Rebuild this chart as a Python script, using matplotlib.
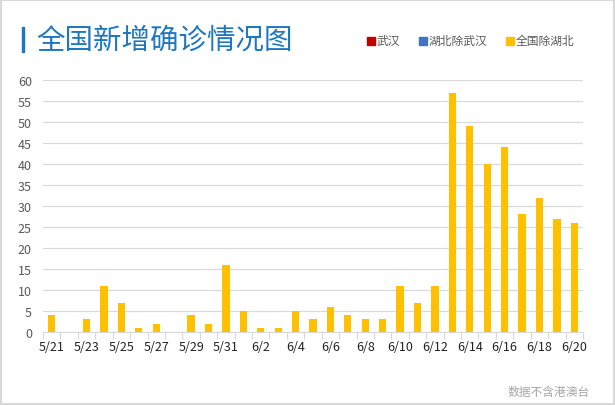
import numpy as np
import matplotlib.pyplot as plt
from matplotlib.patches import Rectangle

plt.rcParams['font.family'] = ['Noto Sans CJK SC', 'DejaVu Sans']

dates = ['5/21', '5/22', '5/23', '5/24', '5/25', '5/26', '5/27', '5/28', '5/29', '5/30', '5/31',
         '6/1', '6/2', '6/3', '6/4', '6/5', '6/6', '6/7', '6/8', '6/9', '6/10',
         '6/11', '6/12', '6/13', '6/14', '6/15', '6/16', '6/17', '6/18', '6/19', '6/20']
wuhan = [0] * len(dates)
hubei_ex_wuhan = [0] * len(dates)
china_ex_hubei = [4, 0, 3, 11, 7, 1, 2, 0, 4, 2, 16,
                  5, 1, 1, 5, 3, 6, 4, 3, 3, 11,
                  7, 11, 57, 49, 40, 44, 28, 32, 27, 26]
series_names = ['武汉', '湖北除武汉', '全国除湖北']
colors = ['#c00000', '#4472c4', '#ffc000']

fig = plt.figure(figsize=(6.15, 4.06), dpi=100)
ax = fig.add_axes([43 / 615, 73 / 406, 540 / 615, 252 / 406])

x = np.arange(len(dates))
bottom = np.zeros(len(dates))
for vals, c in zip([wuhan, hubei_ex_wuhan, china_ex_hubei], colors):
    ax.bar(x, vals, width=0.42, bottom=bottom, color=c, zorder=3)
    bottom += np.array(vals)

ax.set_xlim(-0.5, len(dates) - 0.5)
ax.set_ylim(0, 60)
ax.set_yticks(range(0, 61, 5))
ax.yaxis.grid(True, color='#d9d9d9', linewidth=0.9, zorder=0)
ax.tick_params(axis='y', length=0, labelsize=9, labelcolor='#595959', pad=8)

ax.set_xticks(x[::2])
ax.set_xticklabels(dates[::2])
ax.tick_params(axis='x', which='major', length=0, labelsize=9, labelcolor='#222222', pad=6)
ax.set_xticks(np.arange(-0.5, len(dates), 1), minor=True)
ax.tick_params(axis='x', which='minor', length=5, color='#d9d9d9', width=0.9)

for s in ['top', 'right', 'left']:
    ax.spines[s].set_visible(False)
ax.spines['bottom'].set_color('#d9d9d9')

# title with blue bar
fig.patches.append(Rectangle((21.5 / 615, 1 - 53 / 406), 2.3 / 615, 25 / 406,
                             transform=fig.transFigure, color='#1e78c0'))
fig.text(36 / 615, 1 - 41 / 406, '全国新增确诊情况图', fontsize=20.5, color='#1e78c0',
         va='center', ha='left', fontweight='light')

# legend
leg_x = [367, 419, 506]
for name, c, lx in zip(series_names, colors, leg_x):
    fig.patches.append(Rectangle((lx / 615, 1 - 45.5 / 406), 7.5 / 615, 7.5 / 406,
                                 transform=fig.transFigure, color=c))
    fig.text((lx + 10) / 615, 1 - 41.5 / 406, name, fontsize=8.5, color='#595959',
             va='center', ha='left', fontweight='light')

fig.text(590 / 615, 1 - 392 / 406, '数据不含港澳台', fontsize=8.5, color='#a6a6a6',
         va='center', ha='right', fontweight='light')

# outer frame
fig.patches.append(Rectangle((0.002, 0.003), 0.996, 0.994, transform=fig.transFigure,
                             fill=False, edgecolor='#d9d9d9', linewidth=1.5))

fig.savefig('out.png', dpi=100)
